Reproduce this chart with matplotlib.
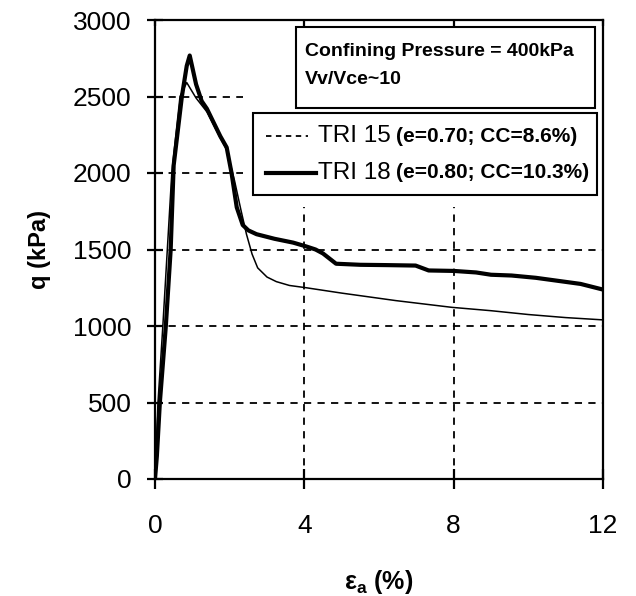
import matplotlib
matplotlib.use("Agg")
import matplotlib.pyplot as plt
from matplotlib.patches import Rectangle
from matplotlib.lines import Line2D

plt.rcParams['font.family'] = ['Liberation Sans', 'DejaVu Sans']
plt.rcParams['mathtext.fontset'] = 'custom'
plt.rcParams['mathtext.bf'] = 'Liberation Sans:bold'
plt.rcParams['mathtext.rm'] = 'Liberation Sans'

# ---- data ----
tri15_strain = [0.0, 0.08, 0.21, 0.33, 0.45, 0.67, 0.85, 1.1, 1.39, 1.6, 1.92, 2.13, 2.3,
                2.45, 2.6, 2.75, 3.0, 3.25, 3.6, 4.05, 5.0, 6.45, 7.95, 9.0, 10.0, 11.0, 12.0]
tri15_q = [0, 500, 1000, 1500, 2000, 2500, 2591, 2490, 2400, 2300, 2150, 1950, 1760,
           1600, 1470, 1380, 1320, 1290, 1265, 1250, 1215, 1166, 1122, 1100, 1075, 1055, 1040]

tri18_strain = [0.0, 0.05, 0.13, 0.29, 0.42, 0.5, 0.72, 0.85, 0.93, 1.1, 1.25, 1.39, 1.55,
                1.75, 1.92, 2.05, 2.19, 2.35, 2.5, 2.72, 3.2, 3.7, 4.05, 4.3, 4.5, 4.85,
                5.5, 6.2, 6.98, 7.33, 8.0, 8.6, 9.0, 9.55, 10.2, 10.8, 11.4, 12.0]
tri18_q = [0, 150, 500, 1000, 1500, 2050, 2500, 2700, 2768, 2580, 2470, 2420, 2340,
           2240, 2167, 2000, 1775, 1660, 1625, 1600, 1570, 1545, 1520, 1500, 1474, 1407,
           1400, 1398, 1395, 1363, 1360, 1350, 1335, 1330, 1315, 1295, 1275, 1238]

x_ticks = [0, 4, 8, 12]
y_ticks = [0, 500, 1000, 1500, 2000, 2500, 3000]

series_labels = ["TRI 15", "TRI 18"]
series_notes = ["(e=0.70; CC=8.6%)", "(e=0.80; CC=10.3%)"]
annotation_lines = ["Confining Pressure = 400kPa", "Vv/Vce~10"]

# ---- figure ----
fig = plt.figure(figsize=(6.36, 5.96), dpi=100)
ax = fig.add_axes([155/636, 1 - 479/596, 448/636, 459/596])
ax.set_xlim(0, 12)
ax.set_ylim(0, 3000)

# grid lines (dashed), partially hidden by the text boxes
for yv in y_ticks[1:-1]:
    xmax = 1.0 if yv <= 1500 else 2.35 / 12
    ax.axhline(yv, xmin=0, xmax=xmax, color='black', lw=1.3, ls=(0, (4, 3.5)), zorder=1)
for xv in x_ticks[1:-1]:
    ax.axvline(xv, ymin=0, ymax=1780/3000, color='black', lw=1.3, ls=(0, (4, 3.5)), zorder=1)

ax.plot(tri15_strain, tri15_q, color='black', lw=1.1, zorder=3)
ax.plot(tri18_strain, tri18_q, color='black', lw=3.0, zorder=4, solid_joinstyle='round')

for s in ax.spines.values():
    s.set_linewidth(1.6)

ax.set_xticks(x_ticks)
ax.set_yticks(y_ticks)
ax.tick_params(axis='both', labelsize=19, width=1.6)
ax.tick_params(axis='y', direction='inout', length=12, pad=11)
ax.tick_params(axis='x', direction='inout', length=14, pad=18)
ax.xaxis.set_tick_params(which='major', top=True)
for tk in ax.xaxis.get_major_ticks():
    tk.tick2line.set_markersize(4)
    tk.tick2line.set_marker(3)  # inward at top

ax.set_ylabel("q (kPa)", fontsize=17, fontweight='bold', labelpad=16)
ax.set_xlabel(r"$\mathbf{ε_a}$ (%)", fontsize=18, fontweight='bold', labelpad=22)

# annotation box
T = ax.transAxes
def axx(px):
    return (px - 155) / 448
def axy(py):
    return (479 - py) / 459

ax.add_patch(Rectangle((axx(296), axy(108)), axx(595) - axx(296), axy(27) - axy(108),
                       transform=T, facecolor='white', edgecolor='black', lw=1.5, zorder=5))
ax.text(axx(305), axy(52), annotation_lines[0], transform=T, fontsize=14, fontweight='bold',
        va='center', ha='left', zorder=6)
ax.text(axx(305), axy(80), annotation_lines[1], transform=T, fontsize=14, fontweight='bold',
        va='center', ha='left', zorder=6)

# legend box
ax.add_patch(Rectangle((axx(253), axy(195)), axx(597) - axx(253), axy(113) - axy(195),
                       transform=T, facecolor='white', edgecolor='black', lw=1.5, zorder=5))
leg_y = [136, 173]
ax.add_line(Line2D([axx(266), axx(308)], [axy(leg_y[0])] * 2, transform=T, color='black',
                   lw=1.3, ls=(0, (3, 2.5)), zorder=6))
ax.add_line(Line2D([axx(266), axx(316)], [axy(leg_y[1])] * 2, transform=T, color='black',
                   lw=3.0, zorder=6))
for i in range(2):
    ax.text(axx(318), axy(leg_y[i]), series_labels[i], transform=T, fontsize=17.5,
            va='center', ha='left', zorder=6)
    ax.text(axx(396), axy(leg_y[i]), series_notes[i], transform=T, fontsize=15,
            fontweight='bold', va='center', ha='left', zorder=6)

fig.savefig("out.png", dpi=100)
